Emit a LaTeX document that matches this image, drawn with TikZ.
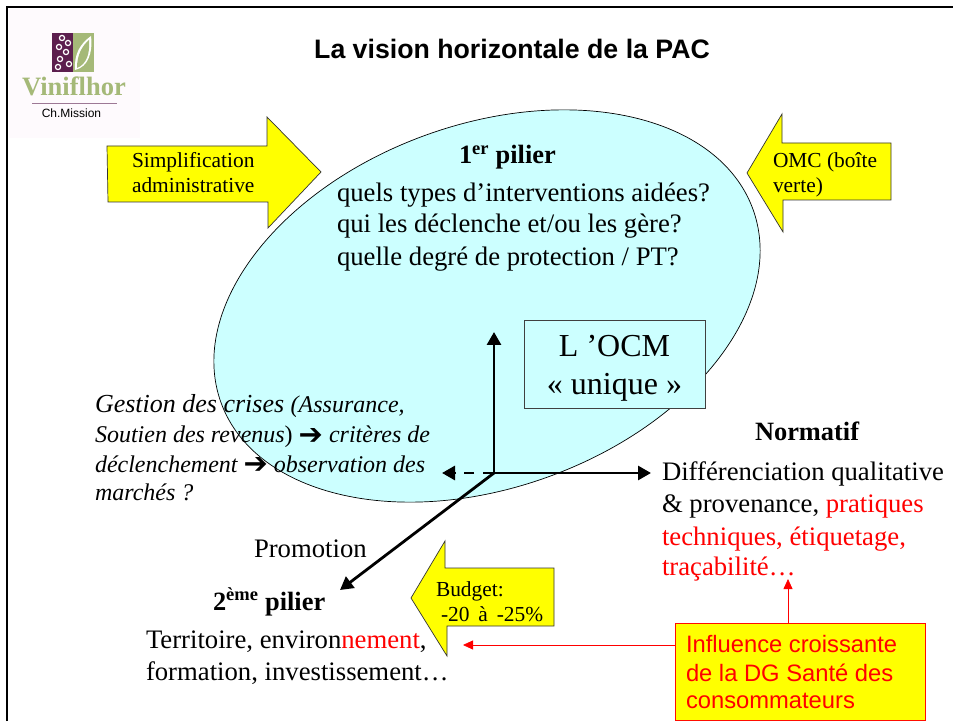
\documentclass[tikz,border=0pt]{standalone}
\usepackage{fontspec}
\setmainfont{Liberation Serif}
\setsansfont{Liberation Sans}
\newfontfamily\symb{DejaVu Sans}
\usetikzlibrary{arrows.meta}
\definecolor{ell}{RGB}{204,255,255}
\definecolor{yel}{RGB}{255,255,0}
\definecolor{logop}{RGB}{92,30,78}
\definecolor{logog}{RGB}{165,185,120}
\definecolor{logob}{RGB}{254,250,253}
\newcommand{\fs}[1]{\fontsize{#1}{#1}\selectfont}
\newcommand{\arr}{{\symb\bfseries\fs{29}\raisebox{-1pt}{➔}}}
\tikzset{
 x=1pt,y=1pt,
 tl/.style={inner sep=0pt,outer sep=0pt,anchor=base west,font=\fs{26.7}},
 tb/.style={inner sep=0pt,outer sep=0pt,anchor=base west,font=\fs{26.4}\bfseries},
 ts/.style={inner sep=0pt,outer sep=0pt,anchor=base west,font=\fs{21.4}},
 ti/.style={inner sep=0pt,outer sep=0pt,anchor=base west,font=\fs{24}\itshape},
 tr/.style={inner sep=0pt,outer sep=0pt,anchor=base west,text=red,font=\sffamily\fs{23.75}},
 tc/.style={inner sep=0pt,font=\fs{32},anchor=base},
 axisline/.style={line width=2.8pt,-{Triangle[length=13pt,width=14pt]}},
 redarrow/.style={red,line width=0.8pt,-{Triangle[length=10pt,width=9pt]}},
 yarrow/.style={fill=yel,draw=black!80,line width=0.7pt,line join=miter}
}
\begin{document}
\begin{tikzpicture}
\useasboundingbox (0,0) rectangle (953,721);
\fill[white] (0,0) rectangle (953,721);
% frame
\coordinate (fa) at (7,0); \coordinate (fb) at (7,714); \coordinate (fc) at (953,714);
\draw[line width=2.4pt] (fa) -- (fb) -- (fc);
% logo
\fill[logob] (9,583) rectangle (140,712);
\fill[logop] (52,649) rectangle (73,688);
\fill[logog] (73,649) rectangle (94,688);
\fill[white] (75,651) .. controls (74,667) and (80,677) .. (91,685) .. controls (93,668) and (88,654) .. (75,651);
\fill[logog] (77,653) .. controls (77,666) and (82,675) .. (89,681) .. controls (90,668) and (87,657) .. (77,653);
\foreach \p in {(62,683),(68,678),(59,674),(66,669),(60,662),(69,657),(58,654)}
  \draw[white,line width=1.2pt] \p circle (2.6);
\node[inner sep=0pt,anchor=base,text=logog,font=\fs{26.5}\bfseries] (vini) at (74,625) {Viniflhor};
\draw[logop!60,line width=0.8pt] (32,618) -- (117,618);
\node[inner sep=0pt,font=\sffamily\fs{12}] (chm) at (71.5,608) {Ch.Mission};
% title
\node[inner sep=0pt,font=\sffamily\bfseries\fs{26.7}] (title) at (512,672) {La vision horizontale de la PAC};
% yellow arrows
\draw[yarrow] (107,575) -- (267,575) -- (267,604) -- (321,549) -- (268,493) -- (268,519) -- (108,519) -- cycle;
\draw[yarrow] (747,548) -- (782,607) -- (782,578) -- (891,578) -- (891,521) -- (783,521) -- (783,489) -- cycle;
% ellipse
\draw[fill=ell,draw=black,line width=0.7pt,rotate around={20:(487,415)}] (487,415) ellipse [x radius=283,y radius=181.5];
\draw[yarrow] (411,123) -- (445,180) -- (445,153) -- (554,153) -- (554,95) -- (447,95) -- (447,65) -- cycle;
% box
\node[draw=black!75,fill=ell,line width=0.7pt,minimum width=181pt,minimum height=88pt,inner sep=0pt] (ocm) at (614.5,357) {};
\node[tc] (ocm1) at (614.5,364) {L ’OCM};
\node[tc] (ocm2) at (614.5,326) {« unique »};
% axes
\coordinate (o) at (494,248);
\coordinate (up) at (494,389);
\coordinate (ri) at (651,248);
\coordinate (le) at (442,248);
\coordinate (di) at (340,131);
\draw[axisline] (o) -- (up);
\draw[axisline] (o) -- (ri);
\draw[axisline,dash pattern=on 11pt off 9pt on 10pt off 8pt] (o) -- (le);
\draw[axisline] (o) -- (di);
% red box
\node[draw=red!90!orange,fill=yel,line width=1pt,minimum width=250pt,minimum height=97pt,inner sep=0pt] (rbox) at (800,49.5) {};
\coordinate (ra) at (463,76);
\coordinate (rb) at (788,142);
\draw[redarrow] (rbox.west |- ra) -- (ra);
\draw[redarrow] (rbox.north -| rb) -- (rb);
% texts
\node[tr] (r1) at (686,69) {Influence croissante};
\node[tr] (r2) at (686,40) {de la DG Santé des};
\node[tr] (r3) at (686,13) {consommateurs};
\node[ts] (s1) at (132,553) {Simplification};
\node[ts] (s2) at (132,528) {administrative};
\node[ts] (w1) at (773,553) {OMC (boîte};
\node[ts] (w2) at (773,528) {verte)};
\node[ts] (b1) at (436,125) {Budget:};
\node[ts] (b2) at (441,100) {-20\, à\, -25\%};
\node[tb] (p1) at (459,557) {1\textsuperscript{er} pilier};
\node[tl] (q1) at (337,519) {quels types d’interventions aidées?};
\node[tl] (q2) at (337,488) {qui les déclenche et/ou les gère?};
\node[tl] (q3) at (337,455) {quelle degré de protection / PT?};
\node[ti] (g1) at (95,308) {{\fs{26}Gestion des crises }(Assurance,};
\node[ti] (g2) at (95,278) {Soutien des revenus{\upshape)} \arr{} critères de};
\node[ti] (g3) at (95,249) {déclenchement \arr{} observation des};
\node[ti] (g4) at (95,221) {marchés ?};
\node[tb] (n0) at (755,280) {Normatif};
\node[tl] (n1) at (662,241) {Différenciation qualitative};
\node[tl] (n2) at (662,209) {\& provenance, \textcolor{red}{pratiques}};
\node[tl,text=red] (n3) at (662,176) {techniques, étiquetage,};
\node[tl,text=red] (n4) at (662,146) {traçabilité…};
\node[tl] (pr) at (254,164) {Promotion};
\node[tb] (p2) at (213,111) {2\textsuperscript{ème} pilier};
\node[tl] (t1) at (146,73) {Territoire, environ\textcolor{red}{nement},};
\node[tl] (t2) at (146,41) {formation, investissement…};
\end{tikzpicture}
\end{document}
